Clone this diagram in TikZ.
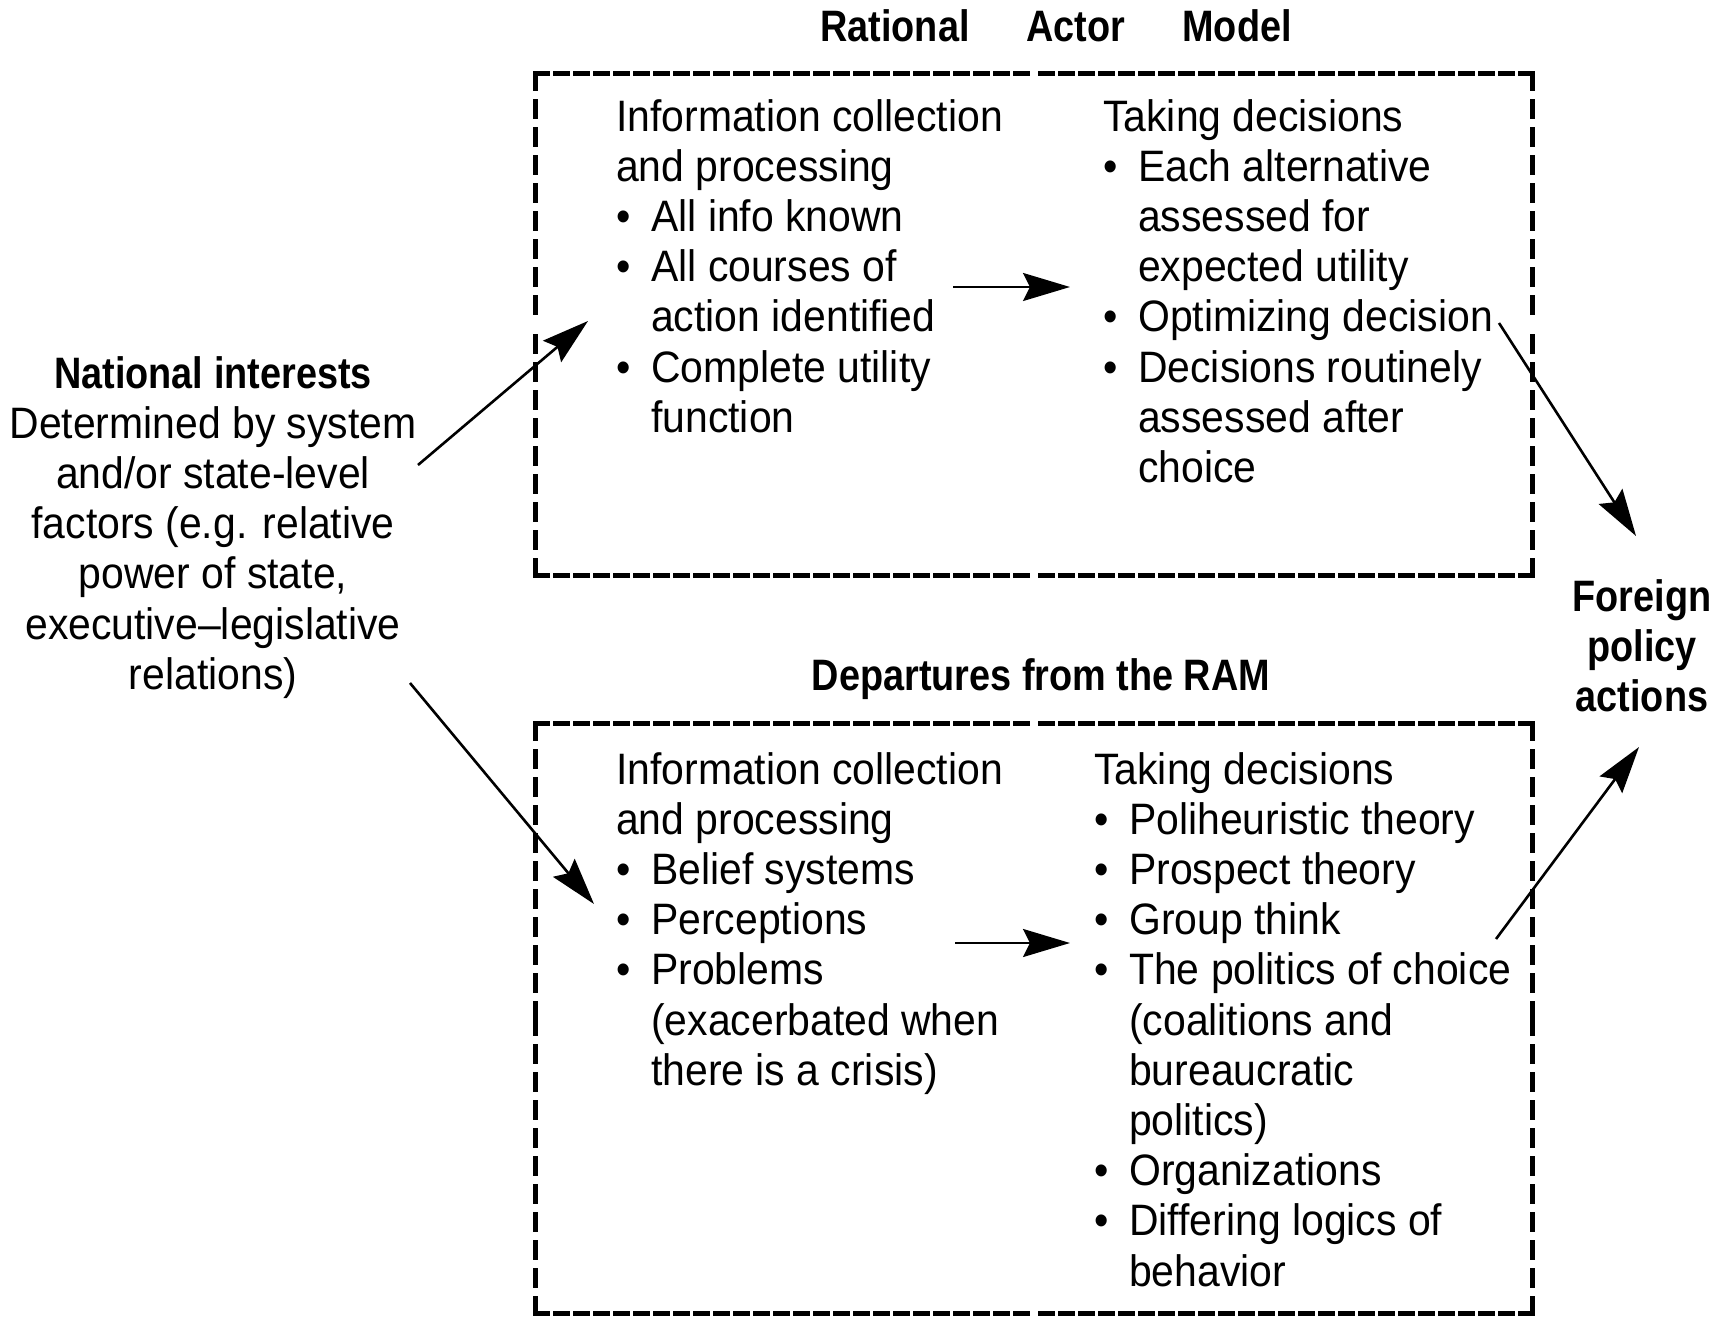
\documentclass[tikz,border=0pt]{standalone}
\usepackage{fontspec}
\setmainfont{Liberation Sans}[FakeStretch=0.93, BoldFeatures={FakeStretch=0.86}]
\usetikzlibrary{arrows.meta}

% bullet marker and hanging indent for continuation lines
\newcommand{\bitem}{\makebox[35pt][l]{\textbullet}}
\newcommand{\cont}{\hspace*{35pt}}

\begin{document}
\begin{tikzpicture}[x=1pt,y=-1pt,
  txt/.style={font=\fontsize{44}{50.2}\selectfont, inner sep=0pt, anchor=north west, align=left},
  ctxt/.style={font=\fontsize{44}{50.2}\selectfont, inner sep=0pt, anchor=north, align=center},
  heading/.style={font=\fontsize{44}{50.2}\selectfont\bfseries, inner sep=0pt, anchor=base},
  frame/.style={inner sep=0pt},
  hdash/.style={line width=5pt, line cap=rect, dash pattern=on 12pt off 8pt},
  vdash/.style={line width=5pt, line cap=rect, dash pattern=on 15pt off 13pt},
  flow/.style={line width=2.6pt, -{Stealth[length=47pt,width=28pt,inset=7pt]}}
]
\useasboundingbox (0,0) rectangle (1716,1319);

% frames: each side is drawn from both corners towards its middle
\node[frame, minimum width=996pt, minimum height=501pt] (ram) at (1034,324.5) {};
\node[frame, minimum width=996pt, minimum height=589pt] (dep) at (1034,1018.5) {};
\foreach \b in {ram,dep}{
  \draw[hdash] (\b.north west) -- (\b.north);
  \draw[hdash] (\b.north east) -- (\b.north);
  \draw[hdash] (\b.south west) -- (\b.south);
  \draw[hdash] (\b.south east) -- (\b.south);
  \draw[vdash] (\b.north west) -- (\b.west);
  \draw[vdash] (\b.south west) -- (\b.west);
  \draw[vdash] (\b.north east) -- (\b.east);
  \draw[vdash] (\b.south east) -- (\b.east);
}

% headings
\node[heading] (ramtitle) at (1056,42) {Rational\hspace{57pt}Actor\hspace{57pt}Model};
\node[heading] (deptitle) at (1041,690) {Departures from the RAM};

% inputs and outputs
\node[ctxt] (nat) at (213,356) {\textbf{National interests}\\Determined by system\\and/or state-level\\factors (e.g. relative\\power of state,\\executive–legislative\\relations)};
\node[ctxt, font=\fontsize{44}{50.2}\selectfont\bfseries] (fpa) at (1642,579) {Foreign\\policy\\actions};

% rational actor model
\node[txt] (raminfo) at (616,99) {Information collection\\and processing\\\bitem All info known\\\bitem All courses of\\\cont action identified\\\bitem Complete utility\\\cont function};
\node[txt] (ramdec) at (1103,99) {Taking decisions\\\bitem Each alternative\\\cont assessed for\\\cont expected utility\\\bitem Optimizing decision\\\bitem Decisions routinely\\\cont assessed after\\\cont choice};

% departures from the RAM
\node[txt] (depinfo) at (616,752) {Information collection\\and processing\\\bitem Belief systems\\\bitem Perceptions\\\bitem Problems\\\cont (exacerbated when\\\cont there is a crisis)};
\node[txt] (depdec) at (1094,752) {Taking decisions\\\bitem Poliheuristic theory\\\bitem Prospect theory\\\bitem Group think\\\bitem The politics of choice\\\cont (coalitions and\\\cont bureaucratic\\\cont politics)\\\bitem Organizations\\\bitem Differing logics of\\\cont behavior};

% connector end points
\coordinate (natA) at (418,465);
\coordinate (ramIn) at (588,321);
\coordinate (natB) at (410,683);
\coordinate (depIn) at (594,904);
\coordinate (ramMidA) at (953,287);
\coordinate (ramMidB) at (1070,287);
\coordinate (depMidA) at (955,943);
\coordinate (depMidB) at (1070,943);
\coordinate (ramOut) at (1499,323);
\coordinate (fpaTop) at (1636,536);
\coordinate (depOut) at (1496,939);
\coordinate (fpaBot) at (1639,747);

% connectors
\draw[flow] (natA) -- (ramIn);
\draw[flow] (natB) -- (depIn);
\draw[flow] (ramMidA) -- (ramMidB);
\draw[flow] (depMidA) -- (depMidB);
\draw[flow] (ramOut) -- (fpaTop);
\draw[flow] (depOut) -- (fpaBot);
\end{tikzpicture}
\end{document}
